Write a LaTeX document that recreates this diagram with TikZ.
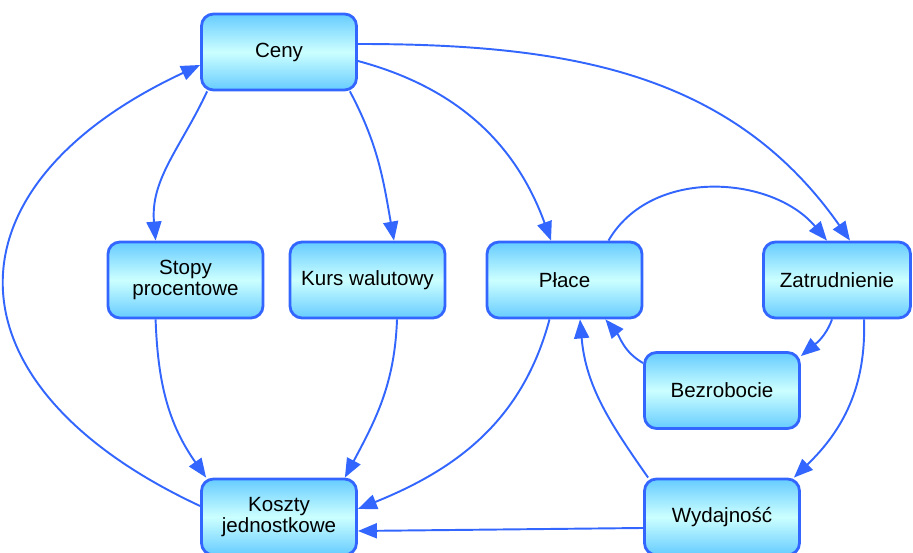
\documentclass[tikz,border=0pt]{standalone}
\usepackage{fontspec}
\setmainfont{Liberation Sans}
\usetikzlibrary{arrows.meta}

\definecolor{boxline}{RGB}{51,102,255}
\definecolor{boxtop}{RGB}{102,204,255}
\definecolor{boxmid}{RGB}{204,255,255}

\tikzset{
	box/.style={draw=boxline, line width=1.6pt, rounded corners=0.24cm,
		minimum width=3.1cm, minimum height=1.52cm, align=center,
		top color=boxtop, bottom color=boxtop, middle color=boxmid,
		font=\fontsize{11.7}{12.4}\selectfont},
	link/.style={draw=boxline, line width=1.1pt,
		-{Triangle[length=0.38cm,width=0.3cm]}}
}

\begin{document}
\begin{tikzpicture}
	\useasboundingbox (0,0) rectangle (18.26,11.06);

	\node[box] (ceny) at (5.58,10.02) {Ceny};
	\node[box] (stopy) at (3.71,5.46) {Stopy\\procentowe};
	\node[box] (kurs) at (7.35,5.46) {Kurs walutowy};
	\node[box] (place) at (11.29,5.46) {Płace};
	\node[box,minimum width=2.94cm] (zatr) at (16.74,5.46) {Zatrudnienie};
	\node[box] (bezr) at (14.44,3.25) {Bezrobocie};
	\node[box] (koszty) at (5.58,0.72) {Koszty\\jednostkowe};
	\node[box] (wyd) at (14.44,0.72) {Wydajność};

	\draw[link] ([xshift=0.14cm]ceny.south west) to[out=-115,in=95] ([xshift=0.98cm]stopy.north west);
	\draw[link] ([xshift=-0.16cm]ceny.south east) to[out=-62,in=100] ([xshift=0.53cm]kurs.north);
	\draw[link] ([yshift=-0.18cm]ceny.east) to[out=-15,in=110] ([xshift=-0.27cm]place.north);
	\draw[link] ([yshift=0.16cm]ceny.east) to[out=0,in=125] ([xshift=0.26cm]zatr.north);
	\draw[link] ([xshift=0.88cm]place.north) to[out=60,in=130] ([xshift=-0.2cm]zatr.north);
	\draw[link] ([xshift=-0.1cm]zatr.south) to[out=-110,in=40] ([yshift=-0.1cm]bezr.north east);
	\draw[link] ([yshift=-0.24cm]bezr.north west) to[out=150,in=-50] ([xshift=-0.76cm]place.south east);
	\draw[link] ([xshift=0.54cm]zatr.south) to[out=-88,in=44] ([xshift=-0.14cm]wyd.north east);
	\draw[link] ([xshift=0.1cm]wyd.north west) to[out=125,in=-85] ([xshift=0.31cm]place.south);
	\draw[link] ([yshift=-0.22cm]wyd.west) -- ([yshift=-0.28cm]koszty.east);
	\draw[link] ([xshift=-0.3cm]place.south) to[out=-105,in=22] ([yshift=0.16cm]koszty.east);
	\draw[link] ([xshift=0.98cm]stopy.south west) to[out=-88,in=125] ([xshift=0.12cm]koszty.north west);
	\draw[link] ([xshift=0.59cm]kurs.south) to[out=-92,in=62] ([xshift=-0.26cm]koszty.north east);
	\draw[link] ([yshift=0.22cm]koszty.west) to[out=155,in=205,looseness=1.67] ([yshift=-0.26cm]ceny.west);
\end{tikzpicture}
\end{document}
